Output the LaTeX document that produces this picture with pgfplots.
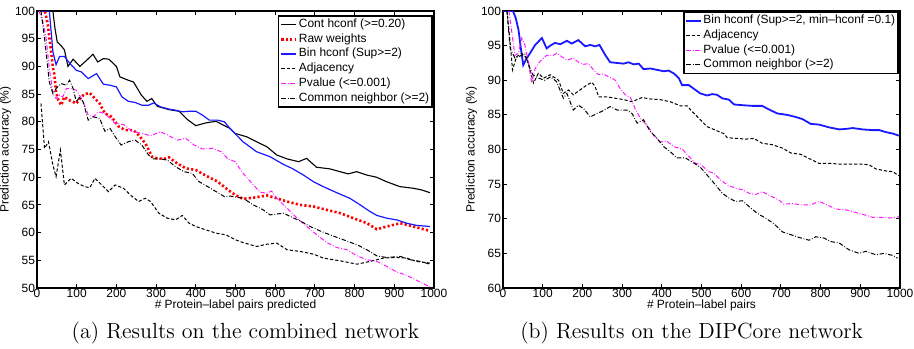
\documentclass[border=0pt]{standalone}
\usepackage{fontspec}
\usepackage{pgfplots}
\pgfplotsset{compat=1.18}
\newfontfamily\hv[Ligatures=TeX]{Liberation Sans}
\newcommand\sm{\hv\fontsize{6}{7}\selectfont}
\definecolor{mblue}{rgb}{0.1,0.1,1}
\definecolor{mmag}{rgb}{1,0.1,1}
\pgfplotsset{
  common/.style={
    width=198.5bp, height=138.5bp, scale only axis,
    xmin=0, xmax=1000, xtick={0,100,...,1000},
    /pgf/number format/assume math mode=true,
    /pgf/number format/1000 sep={},
    tick label style={font=\sm},
    label style={font=\sm},
    axis line style={line width=0.8bp},
    major tick length=2bp, tick align=inside,
    tick style={line width=0.5bp, black},
    xticklabel style={inner sep=0.5bp},
    yticklabel style={inner sep=0.8bp},
    xlabel style={inner sep=0pt, yshift=-0.3bp},
    ylabel style={inner sep=0pt, yshift=1bp},
    ylabel={Prediction accuracy (\%)},
    legend cell align=left,
    legend image code/.code={\draw[mark repeat=2,mark phase=2,##1] plot coordinates {(0bp,0bp) (3.75bp,0bp) (7.5bp,0bp)};},
    legend style={font=\sm, draw=black, line width=0.8bp, inner sep=0.8bp, row sep=0.35bp,
      nodes={inner sep=0.6bp, line width=0.5bp}},
  },
  contst/.style={black, line width=0.55bp},
  rawst/.style={red, line width=1.3bp, dash pattern=on 1.1bp off 1.1bp},
  binst/.style={mblue, line width=0.6bp},
  adjst/.style={black, line width=0.5bp, dash pattern=on 1.6bp off 1bp},
  pvst/.style={mmag, line width=0.5bp, dash pattern=on 2.2bp off 0.9bp on 0.4bp off 0.9bp},
  cnst/.style={black, line width=0.5bp, dash pattern=on 2.2bp off 0.9bp on 0.4bp off 0.9bp},
}
\begin{document}
\begin{tikzpicture}
\useasboundingbox (0,0) rectangle (457bp,174.5bp);
\begin{axis}[common, at={(18.5bp,30.5bp)}, anchor=south west,
  ymin=50, ymax=100, ytick={50,55,...,100},
  xlabel={\# Protein\textendash label pairs predicted},
  legend style={at={(rel axis cs:0.997,0.985)}, anchor=north east}]
\addplot[contst] coordinates {(10,100)(20,100)(30,100)(40,100)(45,97)(51,94.4)(60,93.8)(69,93)(78,90)(91,91.3)(108,90)(125,91.1)(141,92.2)(153,90.8)(167,91.4)(181,91.3)(200,90)(209,88.1)(230,87.5)(243,87.2)(263,84.8)(277,83.7)(289,84.2)(303,82.8)(332,82.2)(358,81.9)(379,80.4)(400,79.3)(425,79.8)(451,80.1)(472,79.3)(486,78.8)(499,77.9)(528,77.3)(553,76.4)(579,75.5)(604,74)(630,73.3)(659,72.8)(679,73.4)(704,71.8)(738,71.5)(763,71)(784,70.6)(805,71)(830,70.4)(855,70)(880,69.2)(914,68.3)(948,68)(969,67.7)(990,67.2)};
\addlegendentry{Cont hconf (>=0.20)}
\addplot[rawst] coordinates {(10,100)(20,100)(27,97.7)(35,93)(40,89.9)(44,88.4)(48,85.4)(54,83.9)(61,83)(69,84.5)(78,84)(91,83.6)(99,83.3)(112,84.5)(120,85)(133,85.2)(146,84.2)(158,83.3)(171,81.5)(188,80.9)(205,79.2)(222,78.5)(243,78.5)(256,77.6)(273,76.1)(290,73.7)(303,73.4)(320,73.3)(332,73.6)(353,72.5)(375,71.6)(400,71.3)(425,70.3)(455,69.2)(476,68)(499,66.8)(519,66.1)(545,66.3)(579,66.7)(604,66.2)(630,65.6)(663,65)(697,64.7)(730,64.1)(764,63.5)(797,62.6)(831,61.7)(856,60.6)(881,61.1)(915,61.7)(948,61.1)(990,60.3)};
\addlegendentry{Raw weights}
\addplot[binst] coordinates {(10,100)(20,100)(31,100)(36,96)(40,92.7)(48,90.3)(57,91.8)(69,91.8)(82,90.6)(99,89.3)(112,89)(129,87.8)(150,88.7)(167,86.8)(184,86.6)(200,86.3)(214,84.5)(230,83.7)(247,83.5)(264,83)(281,83)(294,83.4)(311,82.7)(332,82.3)(349,82.1)(366,81.8)(383,81.9)(400,81.9)(417,81.2)(434,80.3)(455,80.3)(472,80)(486,78.8)(519,76.4)(553,74.6)(587,73.7)(621,72.3)(642,71.6)(671,70.4)(696,69.2)(721,68.3)(755,67.2)(788,66.2)(814,65)(839,63.8)(856,63.1)(881,62.6)(906,62.3)(931,61.7)(956,61.3)(990,61.1)};
\addlegendentry{Bin hconf (Sup>=2)}
\addplot[adjst] coordinates {(10,83.3)(19,75.2)(29,76.4)(40,72.2)(48,70.1)(59,74.9)(69,68.6)(86,69.8)(103,68.9)(120,68.3)(133,68.1)(146,69.8)(163,68.6)(180,67.4)(197,68.6)(218,68)(235,66.8)(256,65.6)(273,66.2)(286,65.6)(307,63.5)(328,62.6)(349,62.3)(366,63.1)(383,61.7)(400,61.1)(425,60.5)(451,59.9)(476,59.6)(500,58.7)(519,58.2)(553,57.5)(579,57.9)(604,58.1)(630,56.9)(663,56.6)(697,56.1)(721,55.4)(764,54.9)(806,54.3)(839,54.8)(873,55.4)(906,55.5)(931,55.4)(956,54.8)(990,54.5)};
\addlegendentry{Adjacency}
\addplot[pvst] coordinates {(5,100)(15,98)(23,95.1)(31,89.7)(40,85.1)(48,84.2)(57,84.8)(65,84.5)(74,86)(86,86)(99,85.7)(112,84.2)(120,83)(129,81.2)(142,80.9)(154,81.8)(171,81.5)(184,80.6)(197,79.7)(218,79.5)(239,78.3)(264,77.9)(286,77.5)(311,78.2)(332,77.5)(353,76.7)(375,77)(396,75.8)(417,75.1)(442,75.2)(464,74.6)(481,73.3)(499,72.8)(519,70.7)(545,68.6)(562,67.3)(579,67.1)(591,67.5)(604,66.2)(630,64.4)(655,62.6)(680,61.1)(705,59.6)(730,58.2)(755,57.3)(781,56.9)(806,55.8)(831,55.1)(856,54.8)(881,53.9)(906,52.9)(931,52.3)(956,51.4)(990,50.2)};
\addlegendentry{Pvalue (<=0.001)}
\addplot[cnst] coordinates {(10,100)(19,95.1)(31,87.2)(40,85.1)(48,86)(61,86.9)(74,86.6)(82,87.5)(91,86)(99,83.6)(108,84.5)(116,83.6)(129,80.3)(142,80.9)(158,80.6)(171,78.3)(184,78.8)(197,77.3)(212,75.8)(230,76.4)(247,76.7)(264,75.8)(281,74)(294,73.3)(311,73.3)(328,73.1)(349,71.9)(370,71)(391,70.7)(408,69.2)(430,68.3)(451,67.4)(472,66.5)(486,66.6)(519,66.2)(545,65)(570,64.1)(587,63.2)(621,63.5)(638,62.9)(663,62.1)(688,61.1)(713,60.3)(738,59.6)(772,58.7)(806,57.8)(831,56.9)(856,55.8)(881,55.5)(915,55.7)(940,55.1)(965,54.8)(990,54.3)};
\addlegendentry{Common neighbor (>=2)}
\end{axis}
\begin{axis}[common, at={(251.5bp,30.5bp)}, anchor=south west,
  ymin=60, ymax=100, ytick={60,65,...,100},
  xlabel={\# Protein\textendash label pairs},
  legend style={at={(rel axis cs:0.997,0.999)}, anchor=north east}]
\addplot[mblue, line width=0.9bp] coordinates {(0,100)(10,100)(25,100)(32,99)(39,97.3)(45,94.6)(51,92.2)(60,93.2)(68,93.9)(81,95.1)(98,96.1)(110,94.6)(119,95)(131,95.4)(144,95.2)(161,95.7)(173,95.3)(190,95.8)(207,94.9)(220,95.1)(232,94.9)(243,95.1)(258,93.6)(270,92.6)(287,92.5)(304,92.4)(316,92.6)(329,92.3)(342,92.4)(354,91.6)(371,91.7)(388,91.5)(405,91.3)(417,91.4)(430,91)(443,90.3)(451,89.3)(468,89.3)(480,88.8)(497,88.1)(514,87.8)(527,88)(539,87.9)(552,87.4)(569,87.2)(582,86.5)(603,86.4)(628,86.3)(653,86.3)(666,85.9)(691,85.2)(716,85)(737,84.7)(754,84.4)(775,83.7)(796,83.6)(821,83.2)(847,82.9)(868,83)(881,83.1)(906,82.9)(931,82.8)(948,82.8)(965,82.5)(982,82.3)(997,82)};
\addlegendentry{Bin hconf (Sup>=2, min\textendash hconf =0.1)}
\addplot[adjst] coordinates {(10,100)(17,96)(24,91.5)(34,93.4)(47,93.9)(60,93.2)(77,89.6)(89,91)(102,90.3)(119,90.8)(140,90)(152,88.1)(165,88.6)(177,87.9)(194,88.6)(211,89.3)(224,89.7)(232,89.1)(241,87.6)(262,87.6)(283,87.4)(304,87.2)(325,86.9)(350,87.5)(371,87.3)(396,87.2)(421,86.9)(447,86.3)(464,86.3)(476,85.5)(497,84.3)(514,83.3)(535,82.8)(556,82.3)(565,81.7)(590,81.6)(611,81.5)(632,81.6)(653,80.9)(678,80.7)(704,80.2)(725,79.5)(750,79.3)(771,78.7)(796,78)(821,78)(847,77.9)(872,77.9)(897,77.9)(922,77.8)(939,77.2)(965,76.9)(982,76.8)(997,76.2)};
\addlegendentry{Adjacency}
\addplot[pvst] coordinates {(15,100)(22,97)(30,93.6)(39,93.9)(47,96.1)(55,95.1)(64,92.7)(72,89.6)(81,91.7)(93,92.7)(110,93.6)(127,93.6)(135,93.9)(148,93.4)(161,92.9)(177,93.2)(190,92.6)(203,92.3)(215,92.4)(228,91.5)(241,90.8)(253,90.9)(266,90.5)(283,90)(295,88.8)(308,87.9)(321,87.5)(333,85.9)(346,84.5)(363,83.5)(380,82.1)(396,81.1)(413,81.2)(430,80.4)(451,80.1)(468,79)(485,78)(497,77.9)(518,76.8)(531,76.6)(548,75.6)(565,74.9)(586,74.4)(603,74.2)(619,73.7)(636,73.5)(653,73.9)(674,73.3)(695,72.7)(707,72.1)(729,72.2)(750,72)(775,72)(796,72.5)(813,72.1)(838,71.4)(863,71.3)(889,70.9)(914,70.5)(931,70.2)(956,70.2)(982,70.1)(997,70.3)};
\addlegendentry{Pvalue (<=0.001)}
\addplot[cnst] coordinates {(10,100)(18,94.6)(30,93.2)(43,93.5)(55,93.8)(66,92)(75,90.8)(90,90.3)(105,90)(120,90.5)(135,89.8)(152,87.4)(161,88.1)(177,85.7)(190,86.4)(203,85.9)(220,84.7)(236,85.2)(249,85.5)(270,86.2)(287,85.7)(312,85.7)(325,85.2)(338,83.8)(354,84.3)(371,82.6)(388,81.6)(405,80.4)(421,79.7)(438,78.8)(459,78.8)(476,78.2)(496,77.5)(510,76.6)(535,74.9)(552,73.7)(569,73)(586,72.5)(603,72.6)(619,71.8)(640,70.8)(661,70.1)(682,69.3)(704,68.1)(725,67.7)(746,67.3)(771,66.9)(788,67.4)(809,67.2)(826,66.7)(847,66.5)(872,65.5)(897,65)(914,65.3)(939,64.8)(960,65)(982,64.7)(994,64.3)};
\addlegendentry{Common neighbor (>=2)}
\end{axis}
\node[font=\fontsize{11}{13}\selectfont, anchor=base] at (122.75bp,5.5bp) {(a) Results on the combined network};
\node[font=\fontsize{11}{13}\selectfont, anchor=base] at (345.8bp,5.5bp) {(b) Results on the DIPCore network};
\end{tikzpicture}
\end{document}
